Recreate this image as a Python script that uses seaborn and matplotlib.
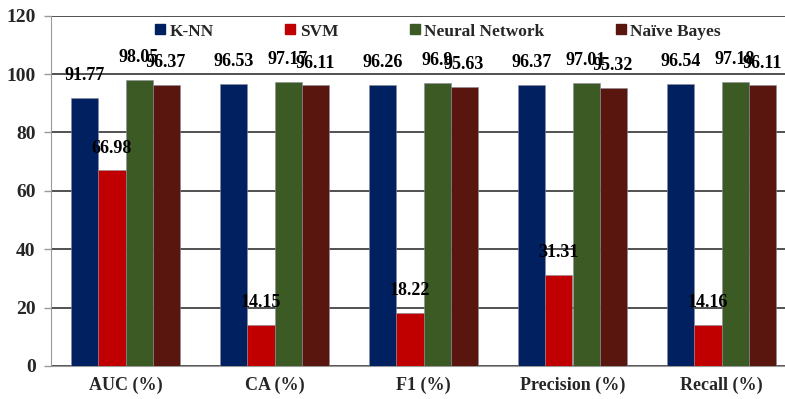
import matplotlib
matplotlib.use("Agg")
import matplotlib.pyplot as plt
import seaborn as sns
import pandas as pd
from matplotlib.lines import Line2D

metrics = ["AUC (%)", "CA (%)", "F1 (%)", "Precision (%)", "Recall (%)"]
models = ["K-NN", "SVM", "Neural Network", "Naïve Bayes"]
knn = [91.77, 96.53, 96.26, 96.37, 96.54]
svm = [66.98, 14.15, 18.22, 31.31, 14.16]
nn = [98.05, 97.17, 96.9, 97.01, 97.18]
nb = [96.37, 96.11, 95.63, 95.32, 96.11]
yticks = [0, 20, 40, 60, 80, 100, 120]

colors = ["#002060", "#C00000", "#3C5A24", "#58160E"]

rows = []
for model, vals in zip(models, [knn, svm, nn, nb]):
    for m, v in zip(metrics, vals):
        rows.append({"Metric": m, "Model": model, "Value": v})
df = pd.DataFrame(rows)

sns.set_style("white")
plt.rcParams["font.family"] = ["Liberation Serif", "DejaVu Serif"]
plt.rcParams["font.weight"] = "bold"

fig = plt.figure(figsize=(7.85, 3.99), dpi=100)
ax = fig.add_axes([51 / 785, 33 / 399, 745 / 785, 350.3 / 399])

sns.barplot(data=df, x="Metric", y="Value", hue="Model", order=metrics,
            hue_order=models, palette=colors, width=0.725, ax=ax,
            edgecolor="#8a8a9a", linewidth=0.4, saturation=1, legend=False,
            zorder=3)

ax.set_ylim(0, 120)
ax.set_yticks(yticks)
ax.set_yticklabels([str(t) for t in yticks], fontsize=14, fontweight="bold")
ax.set_xlabel("")
ax.set_ylabel("")
ax.set_xticks(range(len(metrics)))
ax.set_xticklabels(metrics, fontsize=13, fontweight="bold")
ax.tick_params(axis="x", length=0, pad=8)
ax.set_xticks([i + 0.5 for i in range(len(metrics) - 1)], minor=True)
ax.tick_params(axis="x", which="minor", length=5, color="#999999", width=1)
ax.tick_params(axis="y", length=5, color="#999999", width=1, pad=6, left=True)

ax.grid(axis="y", color="#222222", linewidth=1.1, zorder=0)
ax.set_axisbelow(True)
for s in ["top", "right"]:
    ax.spines[s].set_visible(False)
ax.spines["left"].set_color("#999999")
ax.spines["bottom"].set_color("#999999")

for cont in ax.containers:
    ax.bar_label(cont, labels=[f"{v}" for v in cont.datavalues],
                 padding=10, fontsize=13, fontweight="bold", color="black",
                 zorder=5)

handles = [Line2D([0], [0], marker="s", linestyle="", markersize=7,
                  markerfacecolor=c, markeredgecolor=c) for c in colors]
leg = ax.legend(handles, models, loc="center", bbox_to_anchor=(0.517, 0.955),
                ncol=4, frameon=False, prop={"family": "Liberation Serif",
                                             "weight": "bold", "size": 12.5},
                handletextpad=0.05, columnspacing=3.9, handlelength=1.0)

fig.savefig("out.png", dpi=100)
